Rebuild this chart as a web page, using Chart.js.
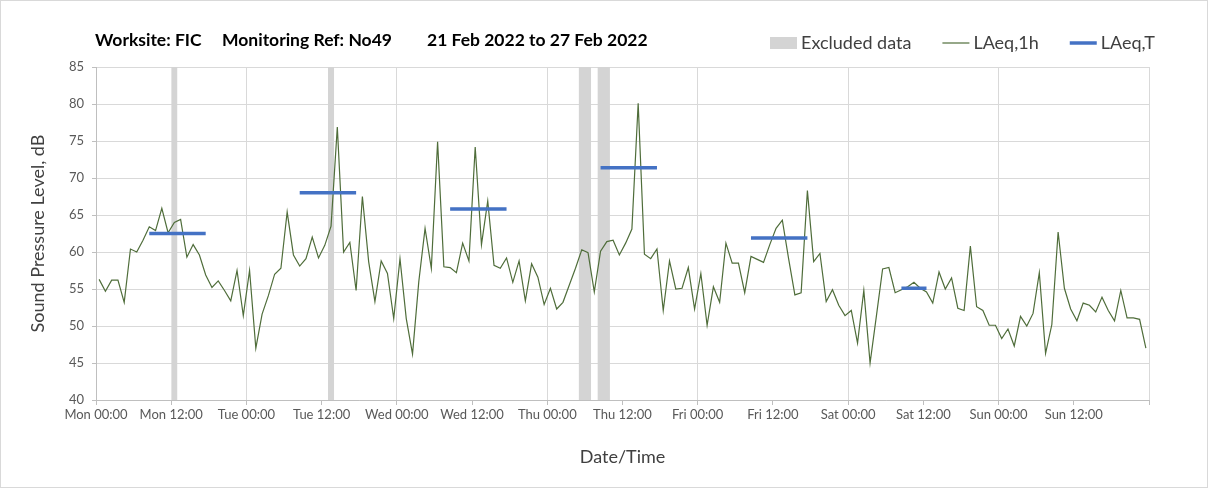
<!DOCTYPE html>
<html lang="en">
<head>
<meta charset="UTF-8" />
<title>Noise monitoring N049</title>
<style>
  html, body { margin: 0; padding: 0; background: #fff; }
  .chart-wrapper { width: 1208px; height: 488px; }
</style>
</head>
<body>
<div class="chart-wrapper">
  <canvas id="noiseChart" width="1208" height="488"></canvas>
</div>
<script src="https://cdn.jsdelivr.net/npm/chart.js"></script>
<script>
// week of hourly readings, Mon 00:00 -> Sun 23:00
const dayNames = ['Mon', 'Tue', 'Wed', 'Thu', 'Fri', 'Sat', 'Sun'];

const laeq1h = [
  56.3, 54.7, 56.2, 56.2, 53.2, 60.4, 60.0, 61.6, 63.4, 62.9, 65.9, 62.6,
  64.0, 64.4, 59.3, 61.0, 59.6, 56.9, 55.2, 56.1, 54.8, 53.4, 57.5, 51.4,
  57.5, 47.0, 51.6, 54.1, 57.0, 57.8, 65.4, 59.6, 58.1, 59.1, 62.0, 59.2,
  60.9, 63.5, 76.9, 60.0, 61.3, 54.8, 67.5, 58.7, 53.3, 58.8, 57.1, 51.0,
  59.1, 51.0, 46.2, 56.0, 63.2, 57.8, 74.9, 58.0, 57.9, 57.2, 61.2, 58.8,
  74.2, 61.0, 66.9, 58.2, 57.8, 59.2, 55.9, 58.8, 53.4, 58.4, 56.6, 52.9,
  55.1, 52.3, 53.2, 55.5, 57.8, 60.3, 59.9, 54.6, 60.1, 61.4, 61.6, 59.6,
  61.2, 63.1, 80.1, 59.7, 59.1, 60.4, 52.1, 58.8, 55.0, 55.1, 57.9, 52.3,
  57.1, 50.1, 55.3, 53.2, 61.2, 58.5, 58.5, 54.5, 59.4, 59.0, 58.6, 61.0,
  63.2, 64.3, 59.1, 54.2, 54.5, 68.3, 58.7, 59.8, 53.3, 54.9, 52.8, 51.4,
  52.1, 47.7, 54.8, 45.0, 51.3, 57.7, 57.9, 54.5, 54.9, 55.3, 55.9, 55.1,
  54.6, 53.1, 57.3, 55.0, 56.5, 52.4, 52.1, 60.8, 52.6, 52.1, 50.1, 50.1,
  48.3, 49.6, 47.3, 51.3, 50.0, 51.7, 57.2, 46.3, 50.2, 62.7, 55.1, 52.3,
  50.7, 53.1, 52.8, 51.9, 53.9, 52.1, 50.7, 54.8, 51.1, 51.1, 50.9, 47.0
];

// working periods (first hour, hour after last) and their LAeq,T
const periodStart = [8, 32, 56, 80, 104, 128];
const periodEnd = [18, 42, 66, 90, 114, 133];
const laeqT = [62.5, 68.0, 65.8, 71.4, 61.9, 55.1];

// excluded hours (from, to)
const excludedFrom = [12, 37, 77, 80];
const excludedTo = [13, 38, 79, 82];

const Y_MIN = 40, Y_MAX = 85;

// hourly values sit in the middle of their hour
const hourlyPoints = laeq1h.map((v, i) => ({ x: i + 0.5, y: v }));

const periodPoints = [];
periodStart.forEach((s, i) => {
  periodPoints.push({ x: s + 0.5, y: laeqT[i] });
  periodPoints.push({ x: periodEnd[i] - 0.5, y: laeqT[i] });
  periodPoints.push({ x: periodEnd[i], y: null });
});

const excludedPoints = [];
excludedFrom.forEach((f, i) => {
  excludedPoints.push({ x: f, y: Y_MAX });
  excludedPoints.push({ x: excludedTo[i], y: Y_MAX });
  excludedPoints.push({ x: excludedTo[i] + 0.01, y: null });
});

Chart.defaults.font.family = 'Lato, "Open Sans", sans-serif';

const headerPlugin = {
  id: 'header',
  afterDraw(chart) {
    const ctx = chart.ctx;
    ctx.save();
    ctx.strokeStyle = '#d9d9d9';
    ctx.lineWidth = 1;
    ctx.strokeRect(0.5, 0.5, chart.width - 1, chart.height - 1);

    ctx.textBaseline = 'middle';
    ctx.fillStyle = '#000';
    ctx.font = 'bold 17.5px Lato';
    ctx.fillText('Worksite: FIC', 95, 40);
    ctx.fillText('Monitoring Ref: No49', 222, 40);
    ctx.fillText('21 Feb 2022 to 27 Feb 2022', 427, 40);

    // legend
    ctx.font = '18px Lato';
    let x = 770;
    const y = 43;
    chart.data.datasets.map((d, i) => i).sort((a, b) => chart.data.datasets[b].order - chart.data.datasets[a].order)
      .forEach(i => {
        const ds = chart.data.datasets[i];
        if (ds.fill) {
          ctx.fillStyle = ds.backgroundColor;
          ctx.fillRect(x, y - 6, 27, 12);
        } else {
          ctx.strokeStyle = ds.borderColor;
          ctx.lineWidth = ds.borderWidth;
          ctx.beginPath();
          ctx.moveTo(x, y);
          ctx.lineTo(x + 27, y);
          ctx.stroke();
        }
        x += 31;
        ctx.fillStyle = '#404040';
        ctx.fillText(ds.label, x, y);
        x += ctx.measureText(ds.label).width + 31;
      });
    ctx.restore();
  }
};

new Chart(document.getElementById('noiseChart'), {
  type: 'line',
  data: {
    datasets: [
      {
        label: 'LAeq,T',
        data: periodPoints,
        borderColor: '#4472c4',
        borderWidth: 3.5,
        borderCapStyle: 'butt',
        pointRadius: 0,
        spanGaps: false,
        fill: false,
        order: 1
      },
      {
        label: 'LAeq,1h',
        data: hourlyPoints,
        borderColor: '#4f6d3a',
        borderWidth: 1.2,
        pointRadius: 0,
        tension: 0,
        fill: false,
        order: 2
      },
      {
        label: 'Excluded data',
        data: excludedPoints,
        borderColor: 'transparent',
        borderWidth: 0,
        backgroundColor: '#d4d4d4',
        pointRadius: 0,
        spanGaps: false,
        fill: 'start',
        order: 3
      }
    ]
  },
  options: {
    responsive: false,
    animation: false,
    devicePixelRatio: 1,
    layout: { padding: { top: 67, right: 59, left: 0, bottom: 0 } },
    plugins: {
      legend: { display: false },
      tooltip: { enabled: false }
    },
    scales: {
      x: {
        type: 'linear',
        min: 0,
        max: 168,
        afterFit: s => { s.height = 88; },
        ticks: {
          stepSize: 12,
          autoSkip: false,
          maxRotation: 0,
          padding: 2,
          color: '#595959',
          font: { size: 13 },
          callback: v => v >= 168 ? '' : dayNames[Math.floor(v / 24)] + (v % 24 === 0 ? ' 00:00' : ' 12:00')
        },
        grid: {
          color: c => (c.tick && c.tick.value % 24 === 0) ? '#d9d9d9' : 'rgba(0,0,0,0)',
          tickColor: '#bfbfbf',
          tickLength: 5
        },
        border: { color: '#bfbfbf' },
        title: {
          display: true,
          text: 'Date/Time',
          color: '#404040',
          font: { size: 18 },
          padding: { top: 4, bottom: 20 }
        }
      },
      y: {
        min: Y_MIN,
        max: Y_MAX,
        afterFit: s => { s.width = 96; },
        ticks: {
          stepSize: 5,
          padding: 8,
          color: '#595959',
          font: { size: 13 }
        },
        grid: {
          color: '#d9d9d9',
          tickColor: '#bfbfbf',
          tickLength: 4
        },
        border: { color: '#bfbfbf' },
        title: {
          display: true,
          text: 'Sound Pressure Level, dB',
          color: '#404040',
          font: { size: 18 },
          padding: { top: 27, bottom: 0 }
        }
      }
    }
  },
  plugins: [headerPlugin]
});
</script>
</body>
</html>
